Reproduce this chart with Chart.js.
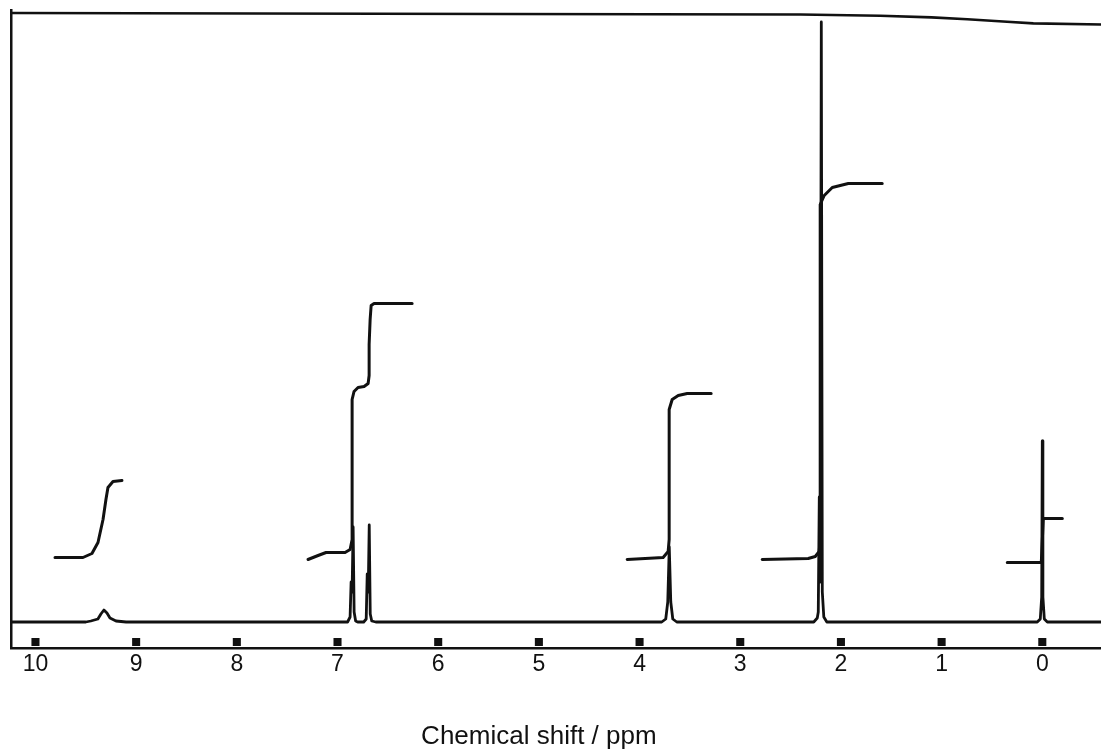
<!DOCTYPE html>
<html>
<head>
<meta charset="utf-8">
<script src="https://cdn.jsdelivr.net/npm/chart.js"></script>
<style>
  html, body { margin: 0; padding: 0; background: #fff; overflow: hidden; }
  #wrap { width: 1107px; height: 751px; }
</style>
</head>
<body>
<div id="wrap"><canvas id="nmrChart"></canvas></div>
<script>
  // x axis: chemical shift (ppm), y: signal height in arbitrary units
  const tickPpm = [10, 9, 8, 7, 6, 5, 4, 3, 2, 1, 0];
  const axisTitle = 'Chemical shift / ppm';

  // spectrum trace
  const specPpm = [10.243, 9.50, 9.45, 9.38, 9.35, 9.32, 9.29, 9.26, 9.20, 9.10,
    6.90, 6.875, 6.865, 6.855, 6.845, 6.835, 6.82, 6.80,
    6.74, 6.715, 6.705, 6.695, 6.685, 6.675, 6.66, 6.62,
    3.78, 3.74, 3.72, 3.705, 3.69, 3.67, 3.63,
    2.27, 2.235, 2.225, 2.215, 2.205, 2.195, 2.185, 2.17, 2.14,
    0.05, 0.02, 0.006, 0, -0.006, -0.02, -0.05, -0.586];
  const specInt = [0, 0, 1, 3, 8, 12, 9, 4, 1, 0,
    0, 5, 40, 30, 95, 10, 1, 0,
    0, 3, 48, 30, 97, 8, 1, 0,
    0, 3, 20, 75, 20, 3, 0,
    0, 4, 10, 125, 40, 600, 30, 5, 0,
    0, 3, 25, 181, 25, 3, 0, 0];

  // integral curves
  const int1Ppm = [9.806, 9.528, 9.439, 9.379, 9.329, 9.300, 9.280, 9.230, 9.141];
  const int1Val = [64.5, 64.5, 68.5, 79.5, 102.5, 122.5, 134.5, 140.5, 141.5];
  const int2Ppm = [7.293, 7.193, 7.114, 6.925, 6.875, 6.855, 6.855, 6.836, 6.796, 6.736, 6.696, 6.686, 6.686, 6.676, 6.666, 6.637, 6.259];
  const int2Val = [62.5, 66.5, 69.5, 69.5, 72.5, 82.5, 222.5, 230.5, 234.5, 235.5, 238.5, 246.5, 277.5, 302.5, 316.5, 318.5, 318.5];
  const int3Ppm = [4.123, 3.766, 3.716, 3.706, 3.706, 3.676, 3.616, 3.527, 3.289];
  const int3Val = [62.5, 64.5, 70.5, 82.5, 212.5, 222.5, 226.5, 228.5, 228.5];
  const int4Ppm = [2.782, 2.325, 2.255, 2.216, 2.206, 2.206, 2.166, 2.086, 1.927, 1.590];
  const int4Val = [62.5, 63.5, 65.5, 70.5, 82.5, 417.5, 426.5, 434.5, 438.5, 438.5];
  const int5Ppm = [0.348, 0.010, -0.010, -0.199];
  const int5Val = [59.5, 59.5, 103.5, 103.5];

  // plotter frame line along the top
  const framePpm = [10.243, 5.385, 2.404, 1.610, 1.100, 0.745, 0.350, 0.089, -0.586];
  const frameVal = [609, 608, 607.5, 606.2, 604.6, 602.8, 600.2, 598.6, 597.5];

  const zip = (xs, ys) => xs.map((x, i) => ({ x: x, y: ys[i] }));

  const lineStyle = {
    borderColor: '#111',
    borderWidth: 2.8,
    pointRadius: 0,
    tension: 0,
    borderJoinStyle: 'round',
    borderCapStyle: 'round',
    fill: false
  };

  // axis title centred under the 5 ppm mark, like the printout
  const ppmTitle = {
    id: 'ppmTitle',
    afterDraw(chart) {
      const x = chart.scales.x;
      const c = chart.ctx;
      c.save();
      c.fillStyle = '#111';
      c.font = '26px "Liberation Sans", Arial, sans-serif';
      c.textAlign = 'center';
      c.textBaseline = 'middle';
      c.fillText(axisTitle, x.getPixelForValue(5), 737);
      c.restore();
    }
  };

  const ctx = document.getElementById('nmrChart').getContext('2d');
  const nmrChart = new Chart(ctx, {
    type: 'line',
    data: {
      datasets: [
        Object.assign({ label: 'spectrum', data: zip(specPpm, specInt) }, lineStyle),
        Object.assign({ label: 'int1', data: zip(int1Ppm, int1Val) }, lineStyle, { borderWidth: 3 }),
        Object.assign({ label: 'int2', data: zip(int2Ppm, int2Val) }, lineStyle, { borderWidth: 3 }),
        Object.assign({ label: 'int3', data: zip(int3Ppm, int3Val) }, lineStyle, { borderWidth: 3 }),
        Object.assign({ label: 'int4', data: zip(int4Ppm, int4Val) }, lineStyle, { borderWidth: 3 }),
        Object.assign({ label: 'int5', data: zip(int5Ppm, int5Val) }, lineStyle, { borderWidth: 3 }),
        Object.assign({ label: 'frame', data: zip(framePpm, frameVal) }, lineStyle, { borderWidth: 2.6 }),
        {
          label: 'ticks',
          data: tickPpm.map(v => ({ x: v, y: -20 })),
          showLine: false,
          pointStyle: 'rect',
          pointRadius: 5.7,
          pointBorderWidth: 0,
          pointBackgroundColor: '#111'
        }
      ]
    },
    plugins: [ppmTitle],
    options: {
      responsive: true,
      maintainAspectRatio: false,
      animation: false,
      layout: { padding: { top: 10, right: 0, bottom: 0, left: 0 } },
      plugins: {
        legend: { display: false },
        tooltip: { enabled: false }
      },
      scales: {
        x: {
          type: 'linear',
          reverse: true,
          min: -0.586,
          max: 10.243,
          afterFit: (scale) => { scale.height = 103; },
          afterBuildTicks: (scale) => { scale.ticks = tickPpm.map(v => ({ value: v })); },
          grid: { display: false, drawTicks: false },
          border: { display: true, color: '#111', width: 2.5 },
          ticks: {
            padding: 3,
            color: '#111',
            maxRotation: 0,
            autoSkip: false,
            font: { family: '"Liberation Sans", Arial, sans-serif', size: 23 }
          },
          title: { display: false }
        },
        y: {
          min: -26,
          max: 612,
          afterFit: (scale) => { scale.width = 11; },
          grid: { display: false, drawTicks: false },
          border: { display: true, color: '#111', width: 2.5 },
          ticks: { display: false }
        }
      }
    }
  });
</script>
</body>
</html>
